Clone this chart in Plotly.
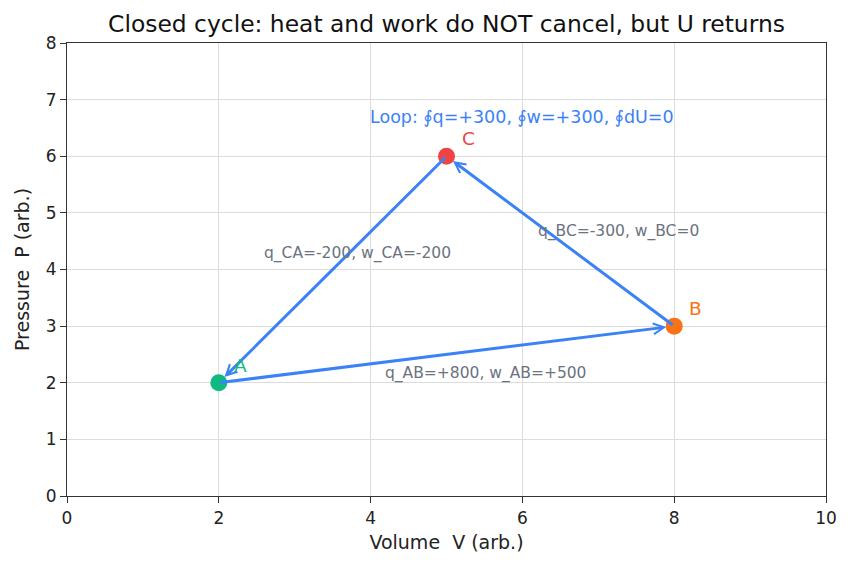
import plotly.graph_objects as go

names = ["A", "B", "C"]
V = [2, 8, 5]
P = [2, 3, 6]
colors = ["#10b981", "#f97316", "#ef4444"]
edges = [(0, 1), (1, 2), (2, 0)]
edge_labels = ["q_AB=+800, w_AB=+500", "q_BC=-300, w_BC=0", "q_CA=-200, w_CA=-200"]
edge_label_pos = [(5.52, 2.17), (7.26, 4.68), (3.83, 4.28)]
loop_text = "Loop: ∮q=+300, ∮w=+300, ∮dU=0"
loop_pos = (6.0, 6.7)

BLUE = "#3b82f6"
FONT = "DejaVu Sans"

fig = go.Figure()

annotations = []
for (i, j) in edges:
    annotations.append(dict(
        x=V[j], y=P[j], ax=V[i], ay=P[i],
        xref="x", yref="y", axref="x", ayref="y",
        showarrow=True, arrowhead=5, arrowsize=0.7, arrowwidth=3,
        arrowcolor=BLUE, standoff=8, startstandoff=0, text=""))

for lab, (x, y) in zip(edge_labels, edge_label_pos):
    annotations.append(dict(x=x, y=y, xref="x", yref="y", text=lab, showarrow=False,
                            font=dict(family=FONT, size=15.5, color="#6b7280")))

annotations.append(dict(x=loop_pos[0], y=loop_pos[1], xref="x", yref="y", text=loop_text,
                        showarrow=False, font=dict(family=FONT, size=17.5, color=BLUE)))

for n, x, y, c in zip(names, V, P, colors):
    annotations.append(dict(x=x, y=y, xref="x", yref="y", text=n, showarrow=False,
                            xanchor="left", yanchor="bottom", xshift=13, yshift=5,
                            font=dict(family=FONT, size=18.5, color=c)))

fig.add_trace(go.Scatter(x=V, y=P, mode="markers",
                         marker=dict(size=17, color=colors, line=dict(width=0)),
                         showlegend=False, hoverinfo="skip"))

fig.update_layout(
    width=852, height=569,
    margin=dict(l=67, r=26, t=43, b=73),
    plot_bgcolor="white", paper_bgcolor="white",
    font=dict(family=FONT, size=17, color="#222"),
    title=dict(text="Closed cycle: heat and work do NOT cancel, but U returns",
               x=0.5, xanchor="center", xref="paper", y=1 - 24 / 569, yanchor="middle",
               font=dict(family=FONT, size=23.4, color="#111")),
    annotations=annotations,
    showlegend=False,
)
axis_common = dict(showline=True, linecolor="#333", linewidth=1.2, mirror=True,
                   ticks="outside", ticklen=6, tickcolor="#333",
                   showgrid=True, gridcolor="#dcdcdc", gridwidth=1, zeroline=False,
                   tickfont=dict(family=FONT, size=17, color="#222"))
fig.update_xaxes(range=[0, 10], dtick=2,
                 title=dict(text="Volume\u00a0\u00a0V (arb.)", font=dict(family=FONT, size=19), standoff=9),
                 **axis_common)
fig.update_yaxes(range=[0, 8], dtick=1,
                 title=dict(text="Pressure\u00a0\u00a0P (arb.)", font=dict(family=FONT, size=19), standoff=11),
                 **axis_common)

fig.write_html("out.html")
